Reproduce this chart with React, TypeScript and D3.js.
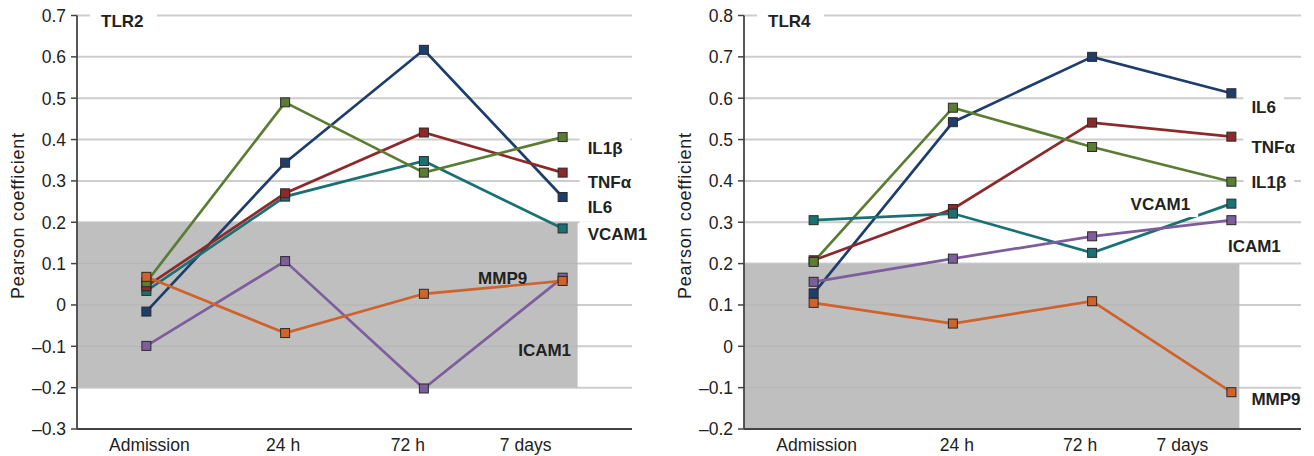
import React from "react";
import * as d3 from "d3";

const categories = ["Admission", "24 h", "72 h", "7 days"];

// TLR2 panel
const tlr2Ticks = [0.7, 0.6, 0.5, 0.4, 0.3, 0.2, 0.1, 0, -0.1, -0.2, -0.3];
const tlr2IL1b = [0.055, 0.49, 0.32, 0.406];
const tlr2TNFa = [0.045, 0.27, 0.417, 0.32];
const tlr2IL6 = [-0.016, 0.344, 0.617, 0.261];
const tlr2VCAM1 = [0.034, 0.262, 0.348, 0.185];
const tlr2MMP9 = [0.068, -0.068, 0.027, 0.058];
const tlr2ICAM1 = [-0.099, 0.106, -0.202, 0.066];

// TLR4 panel
const tlr4Ticks = [0.8, 0.7, 0.6, 0.5, 0.4, 0.3, 0.2, 0.1, 0, -0.1, -0.2];
const tlr4IL6 = [0.128, 0.542, 0.7, 0.612];
const tlr4TNFa = [0.208, 0.332, 0.541, 0.507];
const tlr4IL1b = [0.204, 0.577, 0.482, 0.398];
const tlr4VCAM1 = [0.305, 0.321, 0.226, 0.345];
const tlr4ICAM1 = [0.156, 0.212, 0.266, 0.305];
const tlr4MMP9 = [0.105, 0.055, 0.109, -0.111];

const COLORS: Record<string, string> = {
  IL6: "#1d3d6c",
  IL1b: "#5b7c33",
  TNFa: "#8c2a2b",
  VCAM1: "#1a7174",
  ICAM1: "#7e5d9d",
  MMP9: "#d0622b",
};

const LABEL_TEXT: Record<string, string> = {
  IL6: "IL6",
  IL1b: "IL1β",
  TNFa: "TNFα",
  VCAM1: "VCAM1",
  ICAM1: "ICAM1",
  MMP9: "MMP9",
};

type Series = { key: string; values: number[] };
type Label = { key: string; x: number; v: number; anchor: "start" | "middle"; boxed: boolean };

type PanelCfg = {
  title: string;
  left: number;
  right: number;
  top: number;
  bottom: number;
  yMax: number;
  yMin: number;
  ticks: number[];
  series: Series[];
  labels: Label[];
  catShift: number[];
  shadeExtra: number;
};

const FONT = "'Liberation Sans', Arial, Helvetica, sans-serif";

const panels: PanelCfg[] = [
  {
    title: "TLR2",
    left: 77,
    right: 632,
    top: 15.5,
    bottom: 429,
    yMax: 0.7,
    yMin: -0.3,
    ticks: tlr2Ticks,
    series: [
      { key: "ICAM1", values: tlr2ICAM1 },
      { key: "IL6", values: tlr2IL6 },
      { key: "VCAM1", values: tlr2VCAM1 },
      { key: "TNFa", values: tlr2TNFa },
      { key: "IL1b", values: tlr2IL1b },
      { key: "MMP9", values: tlr2MMP9 },
    ],
    labels: [
      { key: "IL1b", x: 25, v: 0.381, anchor: "start", boxed: true },
      { key: "TNFa", x: 25, v: 0.297, anchor: "start", boxed: true },
      { key: "IL6", x: 25, v: 0.236, anchor: "start", boxed: true },
      { key: "VCAM1", x: 25, v: 0.171, anchor: "start", boxed: true },
      { key: "MMP9", x: -60, v: 0.065, anchor: "middle", boxed: false },
      { key: "ICAM1", x: -18, v: -0.109, anchor: "middle", boxed: false },
    ],
    catShift: [3, -2, -16, -37],
    shadeExtra: 15,
  },
  {
    title: "TLR4",
    left: 744,
    right: 1301,
    top: 15.5,
    bottom: 429,
    yMax: 0.8,
    yMin: -0.2,
    ticks: tlr4Ticks,
    series: [
      { key: "IL6", values: tlr4IL6 },
      { key: "TNFa", values: tlr4TNFa },
      { key: "IL1b", values: tlr4IL1b },
      { key: "VCAM1", values: tlr4VCAM1 },
      { key: "ICAM1", values: tlr4ICAM1 },
      { key: "MMP9", values: tlr4MMP9 },
    ],
    labels: [
      { key: "IL6", x: 20, v: 0.579, anchor: "start", boxed: true },
      { key: "TNFa", x: 20, v: 0.482, anchor: "start", boxed: true },
      { key: "IL1b", x: 20, v: 0.398, anchor: "start", boxed: true },
      { key: "VCAM1", x: -71, v: 0.344, anchor: "middle", boxed: true },
      { key: "ICAM1", x: 23, v: 0.242, anchor: "middle", boxed: false },
      { key: "MMP9", x: 20, v: -0.126, anchor: "start", boxed: false },
    ],
    catShift: [3, 4, -12, -49],
    shadeExtra: 8,
  },
];

function approxWidth(t: string, size: number) {
  const w: Record<string, number> = {
    I: 0.278, L: 0.611, "1": 0.556, "β": 0.6, T: 0.611, N: 0.722, F: 0.611, "α": 0.6,
    "6": 0.556, V: 0.667, C: 0.722, A: 0.722, M: 0.833, P: 0.667, "9": 0.556,
  };
  let s = 0;
  for (const c of t) s += w[c] ?? 0.6;
  return s * size;
}

function Panel({ cfg }: { cfg: PanelCfg }) {
  const x = d3.scalePoint<string>().domain(categories).range([cfg.left, cfg.right]).padding(0.5);
  const y = d3.scaleLinear().domain([cfg.yMin, cfg.yMax]).range([cfg.bottom, cfg.top]);
  const line = d3
    .line<number>()
    .x((_, i) => x(categories[i]) as number)
    .y((d) => y(d));
  const lastX = x(categories[categories.length - 1]) as number;
  const shadeRight = lastX + cfg.shadeExtra;
  const labelSize = 17;

  return (
    <g>
      {/* gridlines */}
      {cfg.ticks.slice(0, -1).map((t) => (
        <line key={"g" + t} x1={cfg.left} x2={cfg.right} y1={y(t)} y2={y(t)} stroke="#cdcdcd" strokeWidth={2} />
      ))}
      {/* shaded band */}
      <rect
        x={cfg.left}
        y={y(0.2)}
        width={shadeRight - cfg.left}
        height={y(-0.2) - y(0.2)}
        fill="#bfbfbf"
      />
      {cfg.ticks
        .filter((t) => t < 0.2 && t > -0.2)
        .map((t) => (
          <line key={"gs" + t} x1={cfg.left} x2={shadeRight} y1={y(t)} y2={y(t)} stroke="#b4b4b4" strokeWidth={1} />
        ))}
      {/* title box */}
      <rect x={cfg.left + 13} y={y(cfg.yMax) - 4} width={67} height={16} fill="#fff" />
      <text x={cfg.left + 24} y={y(cfg.yMax) + 11.5} fontFamily={FONT} fontWeight="bold" fontSize={17} fill="#222">
        {cfg.title}
      </text>
      {/* axes */}
      <line x1={cfg.left} x2={cfg.left} y1={cfg.top} y2={cfg.bottom} stroke="#444" strokeWidth={1.8} />
      <line x1={cfg.left} x2={cfg.right} y1={cfg.bottom} y2={cfg.bottom} stroke="#444" strokeWidth={1.8} />
      {cfg.ticks.map((t) => (
        <g key={"t" + t}>
          <line x1={cfg.left - 6} x2={cfg.left} y1={y(t)} y2={y(t)} stroke="#444" strokeWidth={1.5} />
          <text
            x={cfg.left - 11}
            y={y(t)}
            dy="0.36em"
            textAnchor="end"
            fontFamily={FONT}
            fontSize={17.5}
            fill="#222"
          >
            {t < 0 ? "–" + Math.abs(t).toFixed(1) : t === 0 ? "0" : t.toFixed(1)}
          </text>
        </g>
      ))}
      {categories.map((c, i) => (
        <text
          key={c}
          x={(x(c) as number) + cfg.catShift[i]}
          y={451}
          textAnchor="middle"
          fontFamily={FONT}
          fontSize={17.5}
          fill="#222"
        >
          {c}
        </text>
      ))}
      <text
        transform={`translate(${cfg.left - 53},216) rotate(-90)`}
        textAnchor="middle"
        fontFamily={FONT}
        fontSize={18}
        textLength={166}
        lengthAdjust="spacing"
        fill="#222"
      >
        Pearson coefficient
      </text>
      {/* series */}
      {cfg.series.map((s) => (
        <g key={s.key}>
          <path d={line(s.values) || ""} fill="none" stroke={COLORS[s.key]} strokeWidth={2.7} />
        </g>
      ))}
      {cfg.series.map((s) => (
        <g key={"m" + s.key}>
          {s.values.map((v, i) => (
            <rect
              key={i}
              x={(x(categories[i]) as number) - 4.5}
              y={y(v) - 4.5}
              width={9}
              height={9}
              fill={COLORS[s.key]}
              stroke="#2a2a2a"
              strokeWidth={1}
            />
          ))}
        </g>
      ))}
      {/* labels */}
      {cfg.labels.map((l) => {
        const txt = LABEL_TEXT[l.key];
        const w = approxWidth(txt, labelSize);
        const lx = lastX + l.x;
        const x0 = l.anchor === "start" ? lx : lx - w / 2;
        const cy = y(l.v);
        return (
          <g key={"l" + l.key}>
            {l.boxed && <rect x={x0 - 8} y={cy - 13} width={w + 16} height={26} fill="#fff" />}
            <text
              x={lx}
              y={cy}
              dy="0.36em"
              textAnchor={l.anchor}
              fontFamily={FONT}
              fontWeight="bold"
              fontSize={labelSize}
              fill="#222"
            >
              {txt}
            </text>
          </g>
        );
      })}
    </g>
  );
}

export default function App() {
  return (
    <svg
      width={1314}
      height={456}
      style={{ position: "absolute", left: 0, top: 0, background: "#fff" }}
    >
      <rect x={0} y={0} width={1314} height={456} fill="#fff" />
      {panels.map((p) => (
        <Panel key={p.title} cfg={p} />
      ))}
    </svg>
  );
}
